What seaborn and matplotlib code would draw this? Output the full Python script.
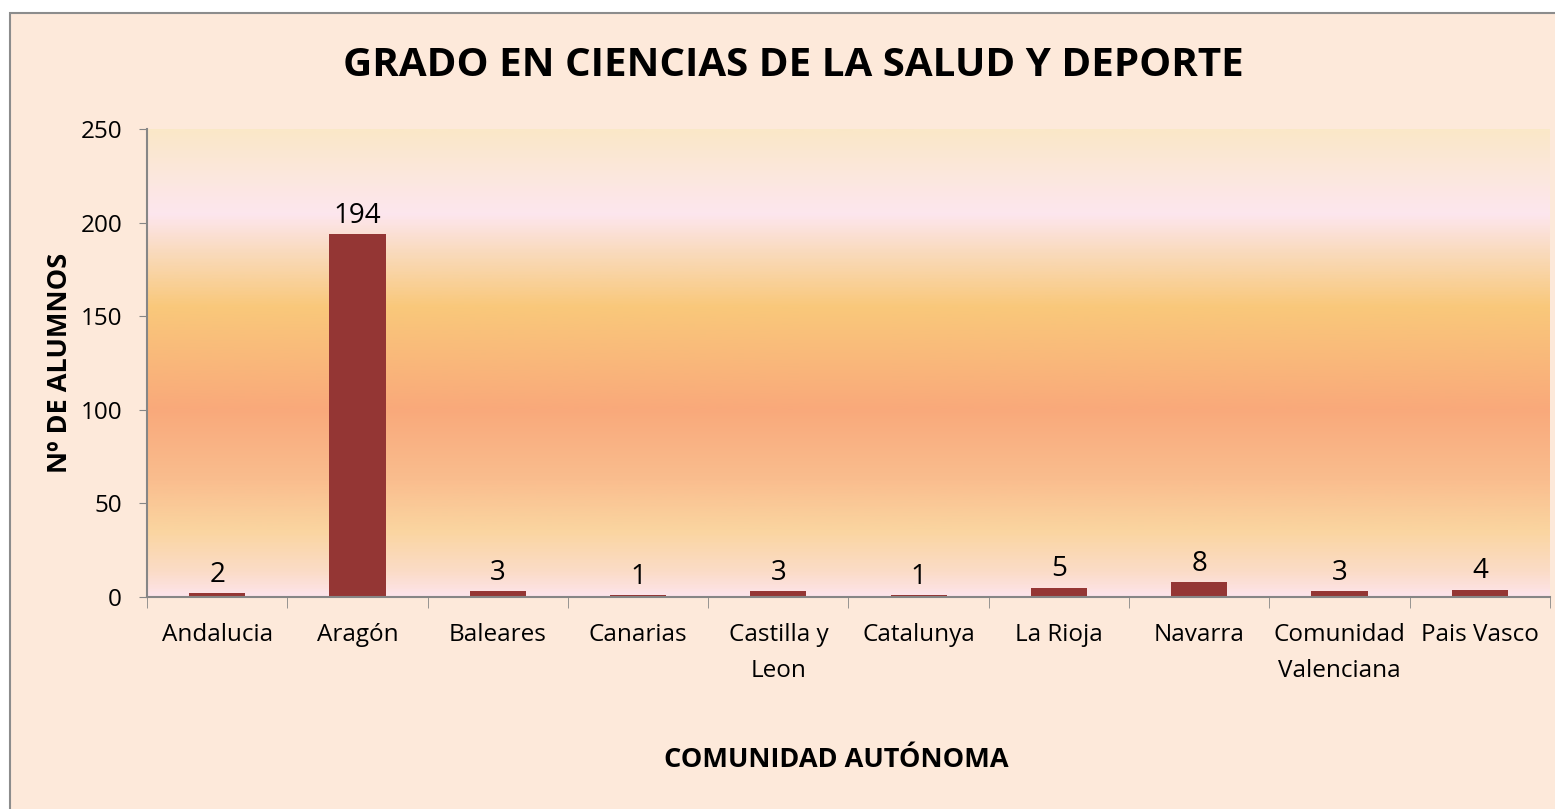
import matplotlib
matplotlib.use("Agg")
import matplotlib.pyplot as plt
import seaborn as sns
import pandas as pd
import numpy as np
from matplotlib.colors import LinearSegmentedColormap
from matplotlib.patches import Rectangle

# data
comunidades = ["Andalucia", "Aragón", "Baleares", "Canarias", "Castilla y\nLeon",
               "Catalunya", "La Rioja", "Navarra", "Comunidad\nValenciana", "Pais Vasco"]
alumnos = [2, 194, 3, 1, 3, 1, 5, 8, 3, 4]

df = pd.DataFrame({"comunidad": comunidades, "alumnos": alumnos})

sns.set_style("white")
plt.rcParams['font.family'] = ['Open Sans', 'DejaVu Sans']
plt.rcParams['text.color'] = 'black'
plt.rcParams['xtick.color'] = 'black'
plt.rcParams['ytick.color'] = 'black'

fig = plt.figure(figsize=(15.55, 8.09), dpi=100)
fig.patch.set_facecolor("white")
# outer chart frame (extends past the bottom/right edge like the original)
fig.patches.append(Rectangle((10 / 1555, -0.05), 1.1, (809 - 13) / 809 + 0.05,
                             transform=fig.transFigure, facecolor="#FDE9DA",
                             edgecolor="#8C8C8C", linewidth=1.5, zorder=-5))

ax = fig.add_axes([147 / 1555, (809 - 597) / 809, (1550 - 147) / 1555, (597 - 129) / 809])
ax.set_facecolor("none")

# background gradient of the plot area
stops = [(0.0, "#FDE4EA"), (0.05, "#FBDCC8"), (0.14, "#FAD5A0"), (0.25, "#FABD8E"),
         (0.40, "#F9A97B"), (0.62, "#F9C87A"), (0.72, "#F9D8B2"), (0.82, "#FDE6EE"),
         (0.88, "#FCE7E2"), (1.0, "#FAE8C8")]
cmap = LinearSegmentedColormap.from_list("bg", stops)
grad = np.linspace(0, 1, 400).reshape(-1, 1)
ax.imshow(grad, cmap=cmap, origin="lower", aspect="auto",
          extent=[-0.5, 9.5, 0, 250], zorder=0)

sns.barplot(data=df, x="comunidad", y="alumnos", color="#943634", width=0.4,
            saturation=1, ax=ax, zorder=2, linewidth=0, edgecolor="none")

for i, v in enumerate(alumnos):
    ax.annotate(str(v), (i, v), xytext=(0, 3), textcoords="offset points",
                ha="center", va="bottom", fontsize=20)

ax.set_xlim(-0.5, 9.5)
ax.set_ylim(0, 250)
ax.set_yticks([0, 50, 100, 150, 200, 250])
ax.tick_params(axis="y", labelsize=17.5, length=6, color="#868686", left=True, pad=12)
ax.set_xticks(range(len(comunidades)))
ax.set_xticklabels(comunidades, fontsize=17.5, linespacing=1.65)
ax.tick_params(axis="x", which="major", length=0, pad=19)
ax.set_xticks(np.arange(-0.5, 10, 1), minor=True)
ax.tick_params(axis="x", which="minor", length=8, color="#868686", bottom=True)

for s in ["top", "right"]:
    ax.spines[s].set_visible(False)
for s in ["left", "bottom"]:
    ax.spines[s].set_color("#868686")
    ax.spines[s].set_linewidth(1.5)

ax.set_xlabel("")
ax.set_ylabel("")
fig.text(60 / 1555, 1 - 363 / 809, "Nº DE ALUMNOS", rotation=90, ha="center",
         va="center", fontsize=19.5, fontweight="bold")
fig.text(836 / 1555, 1 - 760 / 809, "COMUNIDAD AUTÓNOMA", ha="center",
         va="center", fontsize=19.5, fontweight="bold")
fig.text(793 / 1555, 1 - 65 / 809, "GRADO EN CIENCIAS DE LA SALUD Y DEPORTE",
         ha="center", va="center", fontsize=29, fontweight="bold")

fig.savefig("out.png", dpi=100)
